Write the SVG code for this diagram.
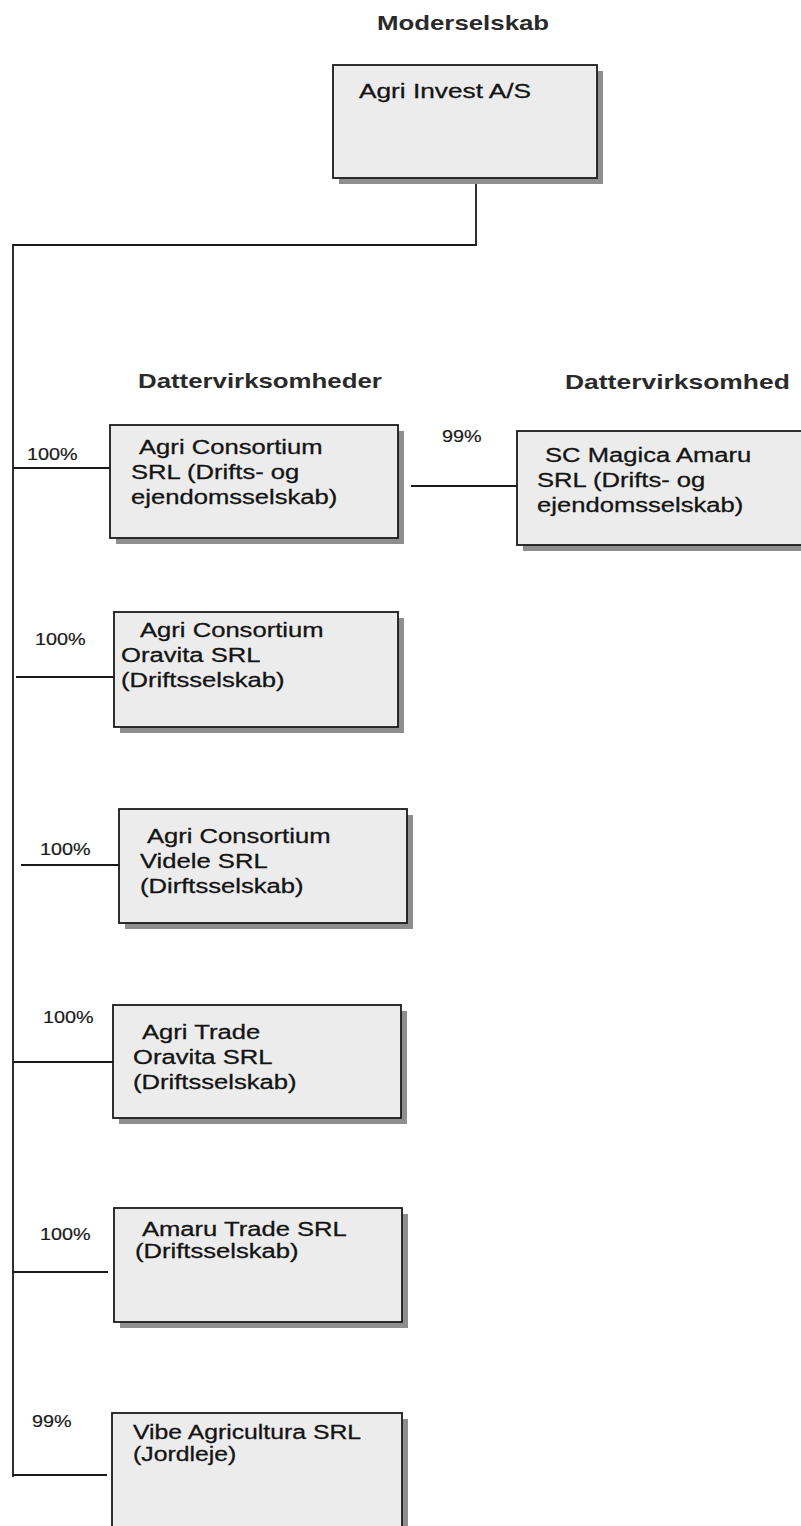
<svg xmlns="http://www.w3.org/2000/svg" width="801" height="1526" viewBox="0 0 801 1526">
<style>
.box{fill:#ececec;stroke:#1a1a1a;stroke-width:1.8}
.sh{fill:#8e8e8e}
.t{font-family:"Liberation Sans",Arial,sans-serif;font-size:21px;fill:#141414;stroke:#141414;stroke-width:0.3}
.p{font-family:"Liberation Sans",Arial,sans-serif;font-size:16.5px;fill:#1a1a1a;stroke:#1a1a1a;stroke-width:0.2}
.h{font-family:"Liberation Sans",Arial,sans-serif;font-size:21px;font-weight:bold;fill:#2a2a2a}
.ln{stroke:#1a1a1a;stroke-width:1.8;fill:none}
</style>
<rect width="801" height="1526" fill="#ffffff"/>

<g id="titles">
<text class="h" transform="translate(377,30) scale(1.23,1)">Moderselskab</text>
<text class="h" transform="translate(138,388) scale(1.23,1)">Dattervirksomheder</text>
<text class="h" transform="translate(565,389) scale(1.26,1)">Dattervirksomhed</text>
</g>

<g id="connectors">
<path class="ln" d="M476,178 V245 H13 V1477"/>
<path class="ln" d="M13,468 H110"/>
<path class="ln" d="M411,486 H517"/>
<path class="ln" d="M16,677 H114"/>
<path class="ln" d="M21,865 H119"/>
<path class="ln" d="M13,1062 H113"/>
<path class="ln" d="M13,1272 H108"/>
<path class="ln" d="M13,1475 H107"/>
</g>

<g id="percentages">
<text class="p" transform="translate(27,460) scale(1.2,1)">100%</text>
<text class="p" transform="translate(442,442) scale(1.2,1)">99%</text>
<text class="p" transform="translate(35,645) scale(1.2,1)">100%</text>
<text class="p" transform="translate(40,855) scale(1.2,1)">100%</text>
<text class="p" transform="translate(43,1023) scale(1.2,1)">100%</text>
<text class="p" transform="translate(40,1240) scale(1.2,1)">100%</text>
<text class="p" transform="translate(32,1427) scale(1.2,1)">99%</text>
</g>

<g id="node-agri-invest">
<rect class="sh" x="339" y="71" width="264" height="113"/>
<rect class="box" x="333" y="65" width="264" height="113"/>
<text class="t" transform="translate(359,98) scale(1.25,1)">Agri Invest A/S</text>
</g>

<g id="node-agri-consortium">
<rect class="sh" x="116" y="431" width="288" height="113"/>
<rect class="box" x="110" y="425" width="288" height="113"/>
<text class="t" transform="translate(131,454) scale(1.22,1)"><tspan x="6.6" y="0">Agri Consortium</tspan><tspan x="0" y="25">SRL (Drifts- og</tspan><tspan x="0" y="50">ejendomsselskab)</tspan></text>
</g>

<g id="node-sc-magica-amaru">
<rect class="sh" x="523" y="437" width="300" height="114"/>
<rect class="box" x="517" y="431" width="300" height="114"/>
<text class="t" transform="translate(537,462) scale(1.22,1)"><tspan x="6.6" y="0">SC Magica Amaru</tspan><tspan x="0" y="25">SRL (Drifts- og</tspan><tspan x="0" y="50">ejendomsselskab)</tspan></text>
</g>

<g id="node-agri-consortium-oravita">
<rect class="sh" x="120" y="618" width="284" height="115"/>
<rect class="box" x="114" y="612" width="284" height="115"/>
<text class="t" transform="translate(121,637) scale(1.22,1)"><tspan x="15.6" y="0">Agri Consortium</tspan><tspan x="0" y="25">Oravita SRL</tspan><tspan x="0" y="50">(Driftsselskab)</tspan></text>
</g>

<g id="node-agri-consortium-videle">
<rect class="sh" x="125" y="815" width="288" height="114"/>
<rect class="box" x="119" y="809" width="288" height="114"/>
<text class="t" transform="translate(140,843) scale(1.22,1)"><tspan x="5.7" y="0">Agri Consortium</tspan><tspan x="0" y="25">Videle SRL</tspan><tspan x="0" y="50">(Dirftsselskab)</tspan></text>
</g>

<g id="node-agri-trade-oravita">
<rect class="sh" x="119" y="1011" width="288" height="113"/>
<rect class="box" x="113" y="1005" width="288" height="113"/>
<text class="t" transform="translate(133,1039) scale(1.22,1)"><tspan x="7.4" y="0">Agri Trade</tspan><tspan x="0" y="25">Oravita SRL</tspan><tspan x="0" y="50">(Driftsselskab)</tspan></text>
</g>

<g id="node-amaru-trade">
<rect class="sh" x="120" y="1214" width="288" height="114"/>
<rect class="box" x="114" y="1208" width="288" height="114"/>
<text class="t" transform="translate(135,1236) scale(1.22,1)"><tspan x="5.7" y="0">Amaru Trade SRL</tspan><tspan x="0" y="22">(Driftsselskab)</tspan></text>
</g>

<g id="node-vibe-agricultura">
<rect class="sh" x="118" y="1419" width="290" height="114"/>
<rect class="box" x="112" y="1413" width="290" height="114"/>
<text class="t" transform="translate(133,1439) scale(1.18,1)"><tspan x="0" y="0">Vibe Agricultura SRL</tspan><tspan x="0" y="22">(Jordleje)</tspan></text>
</g>
</svg>
